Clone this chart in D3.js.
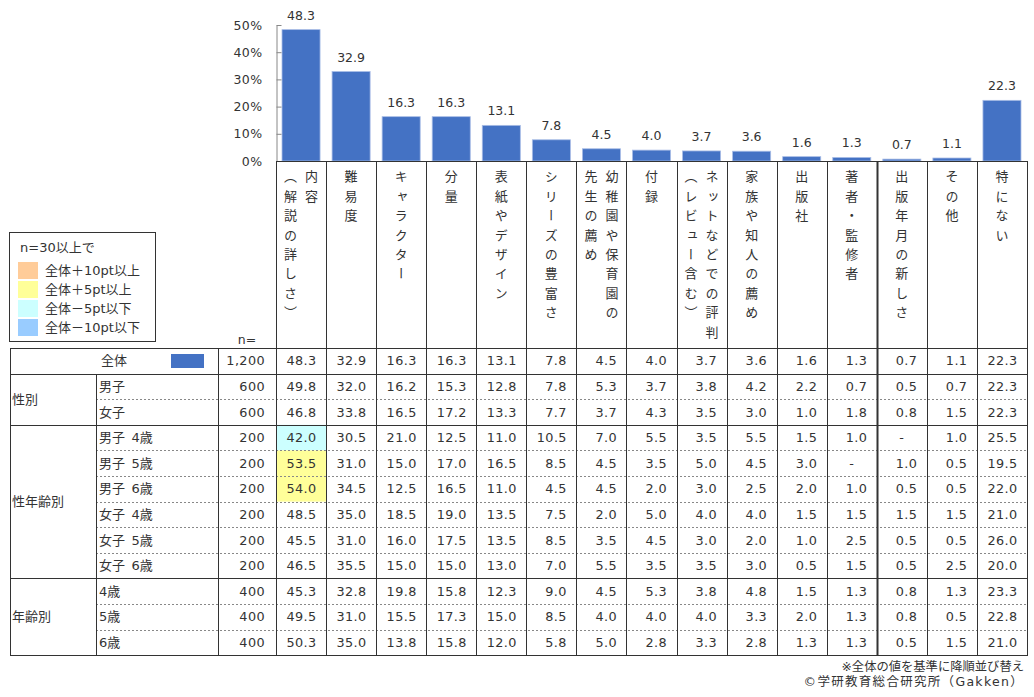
<!DOCTYPE html>
<html>
<head>
<meta charset="utf-8">
<script src="https://cdn.jsdelivr.net/npm/d3@7"></script>
<style>
  body { margin: 0; background: #fff; }
  svg text { font-family: "DejaVu Sans", "Noto Sans CJK JP", sans-serif; fill: #333; }
</style>
</head>
<body>
<svg width="1034" height="697"></svg>
<script>
const categories = [
    '内容\n（解説の詳しさ）', '難易度', 'キャラクター', '分量', '表紙やデザイン',
    'シリーズの豊富さ', '幼稚園や保育園の\n先生の薦め', '付録', 'ネットなどでの評判\n（レビュー含む）',
    '家族や知人の薦め', '出版社', '著者・監修者', '出版年月の新しさ', 'その他', '特にない'
];
const yTicks = [0, 10, 20, 30, 40, 50];

const groupLabels = ['性別', '性年齢別', '年齢別'];
const rowLabels = ['全体', '男子', '女子', '男子\u20024歳', '男子\u20025歳', '男子\u20026歳',
    '女子\u20024歳', '女子\u20025歳', '女子\u20026歳', '4歳', '5歳', '6歳'];
const rowGroup = [-1, 0, 0, 1, 1, 1, 1, 1, 1, 2, 2, 2];
const rowN = [1200, 600, 600, 200, 200, 200, 200, 200, 200, 400, 400, 400];

const total  = [48.3, 32.9, 16.3, 16.3, 13.1, 7.8, 4.5, 4.0, 3.7, 3.6, 1.6, 1.3, 0.7, 1.1, 22.3];
const boys   = [49.8, 32.0, 16.2, 15.3, 12.8, 7.8, 5.3, 3.7, 3.8, 4.2, 2.2, 0.7, 0.5, 0.7, 22.3];
const girls  = [46.8, 33.8, 16.5, 17.2, 13.3, 7.7, 3.7, 4.3, 3.5, 3.0, 1.0, 1.8, 0.8, 1.5, 22.3];
const boys4  = [42.0, 30.5, 21.0, 12.5, 11.0, 10.5, 7.0, 5.5, 3.5, 5.5, 1.5, 1.0, null, 1.0, 25.5];
const boys5  = [53.5, 31.0, 15.0, 17.0, 16.5, 8.5, 4.5, 3.5, 5.0, 4.5, 3.0, null, 1.0, 0.5, 19.5];
const boys6  = [54.0, 34.5, 12.5, 16.5, 11.0, 4.5, 4.5, 2.0, 3.0, 2.5, 2.0, 1.0, 0.5, 0.5, 22.0];
const girls4 = [48.5, 35.0, 18.5, 19.0, 13.5, 7.5, 2.0, 5.0, 4.0, 4.0, 1.5, 1.5, 1.5, 1.5, 21.0];
const girls5 = [45.5, 31.0, 16.0, 17.5, 13.5, 8.5, 3.5, 4.5, 3.0, 2.0, 1.0, 2.5, 0.5, 0.5, 26.0];
const girls6 = [46.5, 35.5, 15.0, 15.0, 13.0, 7.0, 5.5, 3.5, 3.5, 3.0, 0.5, 1.5, 0.5, 2.5, 20.0];
const age4   = [45.3, 32.8, 19.8, 15.8, 12.3, 9.0, 4.5, 5.3, 3.8, 4.8, 1.5, 1.3, 0.8, 1.3, 23.3];
const age5   = [49.5, 31.0, 15.5, 17.3, 15.0, 8.5, 4.0, 4.0, 4.0, 3.3, 2.0, 1.3, 0.8, 0.5, 22.8];
const age6   = [50.3, 35.0, 13.8, 15.8, 12.0, 5.8, 5.0, 2.8, 3.3, 2.8, 1.3, 1.3, 0.5, 1.5, 21.0];
const rows = [total, boys, girls, boys4, boys5, boys6, girls4, girls5, girls6, age4, age5, age6];

const legendTitle = 'n=30以上で';
const legendLabels = ['全体＋10pt以上', '全体＋5pt以上', '全体－5pt以下', '全体－10pt以下'];
const legendColors = ['#ffcc99', '#ffff99', '#ccffff', '#99ccff'];
const notes = ['※全体の値を基準に降順並び替え', '©学研教育総合研究所（Gakken）'];

const svg = d3.select('svg');
const barColor = '#4472c4';
const lineColor = '#333';

const tableLeft = 10, groupRight = 96, labelRight = 218;
const chartLeft = 276, chartRight = 1027;
const baseY = 161, tableTop = 348, rowH = 25.6;

const xCell = d3.scaleBand()
    .domain(categories)
    .range([chartLeft, chartRight]);
const xBar = d3.scaleBand()
    .domain(categories)
    .range([chartLeft, chartRight])
    .paddingInner(0.24)
    .paddingOuter(0.12);
const yScale = d3.scaleLinear()
    .domain([0, 50])
    .range([baseY, 25]);
const rowY = i => tableTop + i * rowH;
const tableBottom = rowY(rows.length);

// highlight rule
const cellColor = (v, col, r) => {
    if (v == null || r === 0 || rowN[r] < 30) return null;
    const diff = Math.round((v - total[col]) * 10) / 10;
    if (diff >= 10) return legendColors[0];
    if (diff >= 5) return legendColors[1];
    if (diff <= -10) return legendColors[3];
    if (diff <= -5) return legendColors[2];
    return null;
};

// bars
svg.append('g').selectAll('rect')
    .data(total)
    .enter()
        .append('rect')
        .attr('x', (d, i) => xBar(categories[i]))
        .attr('y', d => yScale(d))
        .attr('width', xBar.bandwidth())
        .attr('height', d => baseY - yScale(d))
        .attr('fill', barColor)
        .attr('stroke', '#a9bde6')
        .attr('stroke-width', 0.8);

svg.append('g').selectAll('text')
    .data(total)
    .enter()
        .append('text')
        .attr('x', (d, i) => xBar(categories[i]) + xBar.bandwidth() / 2)
        .attr('y', d => yScale(d) - 10)
        .attr('text-anchor', 'middle')
        .style('font-size', '12.5px')
        .text(d => d.toFixed(1));

// y axis
const yAxisG = svg.append('g')
    .attr('transform', `translate(${chartLeft + 0.5}, 0)`)
    .call(d3.axisLeft(yScale)
        .tickValues(yTicks)
        .tickFormat(d => d + '%')
        .tickSize(-5)
        .tickSizeOuter(0)
        .tickPadding(14));
yAxisG.selectAll('.domain, line').attr('stroke', '#888');
yAxisG.selectAll('text')
    .attr('fill', '#333')
    .style('font-size', '12.5px')
    .style('letter-spacing', '0.4px')
    .style('font-family', '"DejaVu Sans", sans-serif');

// highlighted cells
const cells = [];
rows.forEach((row, r) => row.forEach((v, c) => {
    const fill = cellColor(v, c, r);
    if (fill) cells.push({ r, c, fill });
}));
svg.append('g').selectAll('rect')
    .data(cells)
    .enter()
        .append('rect')
        .attr('x', d => xCell(categories[d.c]))
        .attr('y', d => rowY(d.r))
        .attr('width', xCell.bandwidth())
        .attr('height', rowH)
        .attr('fill', d => d.fill);

// header labels (vertical)
const headG = svg.append('g');
categories.forEach(cat => {
    const lines = cat.split('\n');
    const cx = xCell(cat) + xCell.bandwidth() / 2;
    lines.forEach((line, i) => {
        headG.append('text')
            .attr('x', cx + ((lines.length - 1) / 2 - i) * 21)
            .attr('y', 170)
            .style('writing-mode', 'vertical-rl')
            .style('font-family', '"Noto Sans CJK JP", sans-serif')
            .style('font-size', '13px')
            .style('letter-spacing', '6.4px')
            .text(line);
    });
});

svg.append('text')
    .attr('x', 247)
    .attr('y', 344)
    .attr('text-anchor', 'middle')
    .style('font-size', '12.5px')
    .text('n=');

// table values
const bodyG = svg.append('g');
rows.forEach((row, r) => {
    const yMid = rowY(r) + rowH / 2 + 4.5;
    row.forEach((v, c) => {
        const right = xCell(categories[c]) + xCell.bandwidth();
        bodyG.append('text')
            .attr('x', v == null ? right - xCell.bandwidth() / 2 : right - 9.5)
            .attr('y', yMid)
            .attr('text-anchor', v == null ? 'middle' : 'end')
            .style('font-size', '12.8px')
            .style('letter-spacing', '0.4px')
            .text(v == null ? '-' : v.toFixed(1));
    });
    bodyG.append('text')
        .attr('x', 265)
        .attr('y', yMid)
        .attr('text-anchor', 'end')
        .style('font-size', '12.8px')
        .style('letter-spacing', '0.4px')
        .text(d3.format(',')(rowN[r]));
    if (r === 0) {
        bodyG.append('text')
            .attr('x', 114)
            .attr('y', yMid)
            .attr('text-anchor', 'middle')
            .style('font-size', '13px')
            .text(rowLabels[r]);
        bodyG.append('rect')
            .attr('x', 171).attr('y', rowY(r) + 6)
            .attr('width', 33).attr('height', 14)
            .attr('fill', barColor);
    } else {
        bodyG.append('text')
            .attr('x', 99)
            .attr('y', yMid)
            .style('font-size', '13px')
            .text(rowLabels[r]);
    }
});

// group labels
groupLabels.forEach((g, gi) => {
    const idx = rowGroup.map((d, i) => d === gi ? i : -1).filter(i => i >= 0);
    const y0 = rowY(idx[0]), y1 = rowY(idx[idx.length - 1] + 1);
    bodyG.append('text')
        .attr('x', 12)
        .attr('y', (y0 + y1) / 2 + 4.5)
        .style('font-size', '13px')
        .text(g);
});

// grid lines
const px = v => Math.round(v) + 0.5;
const gridG = svg.append('g').attr('stroke', lineColor).attr('stroke-width', 1);
const hLine = (x1, x2, y, dashed) => gridG.append('line')
    .attr('x1', x1).attr('x2', x2).attr('y1', px(y)).attr('y2', px(y))
    .attr('stroke', dashed ? '#888' : lineColor)
    .attr('stroke-dasharray', dashed ? '2,2' : null);
const vLine = (x, y1, y2, w) => gridG.append('line')
    .attr('x1', px(x)).attr('x2', px(x)).attr('y1', y1).attr('y2', y2)
    .attr('stroke-width', w || 1);

hLine(chartLeft, chartRight + 1, baseY);
rows.forEach((row, r) => {
    const sameGroup = r > 0 && rowGroup[r] === rowGroup[r - 1];
    if (sameGroup) hLine(groupRight, chartRight, rowY(r), true);
    else hLine(tableLeft, chartRight + 1, rowY(r));
});
hLine(tableLeft, chartRight + 1, tableBottom);

vLine(tableLeft, px(tableTop), px(tableBottom));
vLine(groupRight, px(rowY(1)), px(tableBottom));
vLine(labelRight, px(tableTop), px(tableBottom));
categories.forEach((cat, i) => {
    vLine(xCell(cat), px(baseY), px(tableBottom), i === 12 ? 2 : 1);
});
vLine(chartRight, px(baseY), px(tableBottom));

// legend
const legG = svg.append('g');
legG.append('rect')
    .attr('x', 9.5).attr('y', 232.5)
    .attr('width', 146).attr('height', 109)
    .attr('fill', 'none')
    .attr('stroke', lineColor);
legG.append('text')
    .attr('x', 20).attr('y', 252)
    .style('font-size', '13px')
    .text(legendTitle);
legendLabels.forEach((l, i) => {
    legG.append('rect')
        .attr('x', 18).attr('y', 262 + i * 19)
        .attr('width', 20).attr('height', 17)
        .attr('fill', legendColors[i]);
    legG.append('text')
        .attr('x', 45).attr('y', 275 + i * 19)
        .style('font-size', '13px')
        .text(l);
});

// notes
notes.forEach((n, i) => {
    svg.append('text')
        .attr('x', 1024)
        .attr('y', 671 + i * 15)
        .attr('text-anchor', 'end')
        .style('font-size', i === 0 ? '12.3px' : '12.5px')
        .style('letter-spacing', i === 0 ? '0px' : '1.3px')
        .text(n);
});
</script>
</body>
</html>
